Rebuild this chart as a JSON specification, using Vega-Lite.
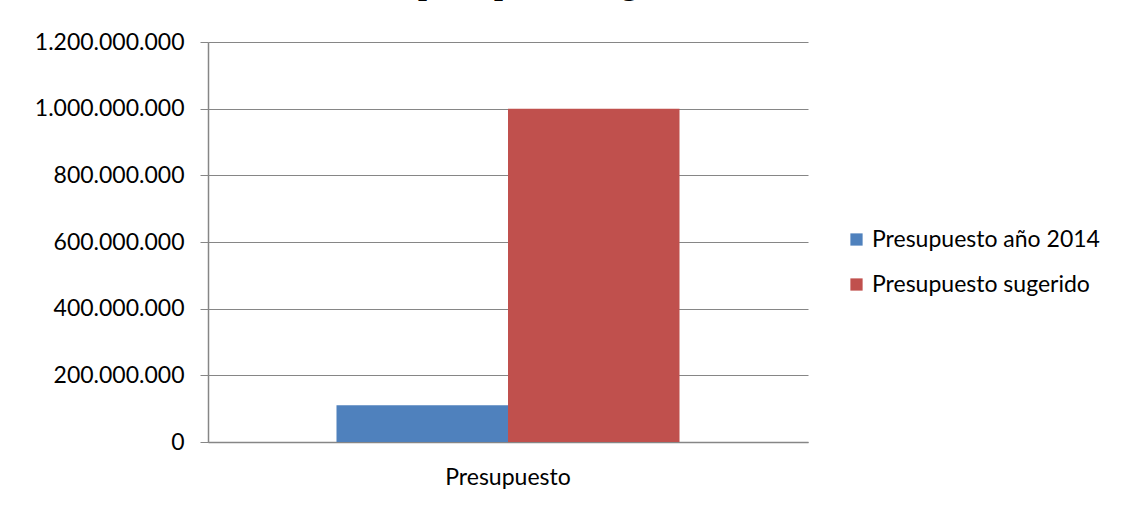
{
  "$schema": "https://vega.github.io/schema/vega-lite/v6.json",
  "autosize": "none",
  "width": 600,
  "height": 400,
  "padding": {"left": 208, "top": 42, "right": 319, "bottom": 64},
  "background": "white",
  "title": {
    "text": "presupuesto sugerido",
    "font": "Liberation Serif",
    "fontSize": 32,
    "fontWeight": "bold",
    "color": "black",
    "anchor": "middle",
    "frame": "bounds",
    "baseline": "alphabetic",
    "offset": 5,
    "dx": -4
  },
  "data": {
    "values": [
      {"categoria": "Presupuesto", "serie": "Presupuesto año 2014", "valor": 110000000},
      {"categoria": "Presupuesto", "serie": "Presupuesto sugerido", "valor": 1000000000}
    ]
  },
  "mark": {"type": "bar"},
  "encoding": {
    "x": {
      "field": "categoria",
      "type": "nominal",
      "scale": {"paddingInner": 0, "paddingOuter": 0.3746},
      "axis": {
        "title": null,
        "labelAngle": 0,
        "labelFont": "Lato",
        "labelFontSize": 23,
        "labelColor": "black",
        "labelPadding": 24,
        "ticks": false,
        "domainColor": "#868686",
        "domainWidth": 1.5
      }
    },
    "xOffset": {
      "field": "serie",
      "type": "nominal",
      "scale": {"paddingInner": 0, "paddingOuter": 0}
    },
    "y": {
      "field": "valor",
      "type": "quantitative",
      "scale": {"domain": [0, 1200000000], "nice": false},
      "axis": {
        "title": null,
        "values": [0, 200000000, 400000000, 600000000, 800000000, 1000000000, 1200000000],
        "format": ",d",
        "labelFont": "Lato",
        "labelFontSize": 23,
        "labelColor": "black",
        "labelPadding": 16,
        "tickSize": 8,
        "tickColor": "#868686",
        "domainColor": "#868686",
        "domainWidth": 1.5,
        "grid": true,
        "gridColor": "#868686",
        "gridWidth": 1
      }
    },
    "color": {
      "field": "serie",
      "type": "nominal",
      "scale": {"range": ["#4f81bd", "#c0504d"]},
      "legend": {
        "title": null,
        "orient": "none",
        "legendX": 637,
        "legendY": 186,
        "symbolType": "square",
        "symbolSize": 150,
        "symbolStrokeWidth": 0,
        "labelFont": "Lato",
        "labelFontSize": 23,
        "labelLimit": 400,
        "labelColor": "black",
        "rowPadding": 21,
        "labelOffset": 4
      }
    }
  },
  "config": {
    "locale": {
      "number": {"decimal": ",", "thousands": ".", "grouping": [3], "currency": ["$", ""]}
    },
    "view": {"stroke": null}
  }
}
